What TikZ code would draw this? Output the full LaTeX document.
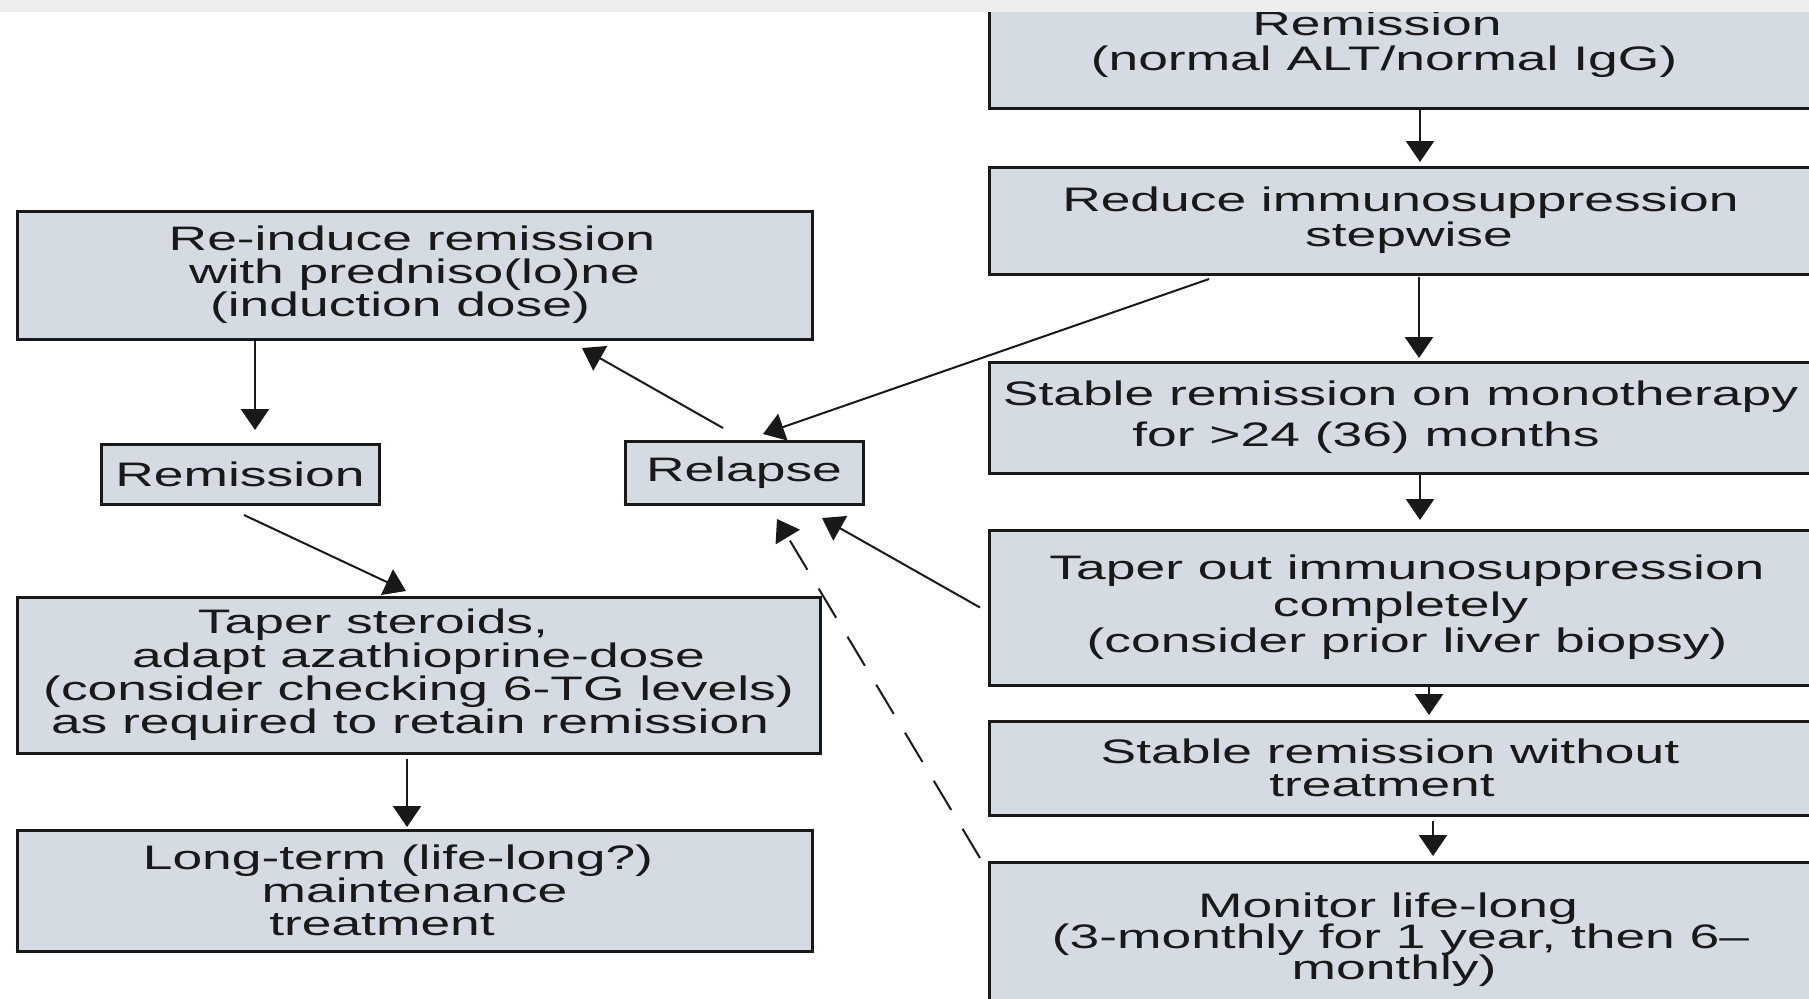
\documentclass[tikz,border=0pt]{standalone}
\usepackage{fontspec}
\newfontfamily\boxfont[FakeStretch=1.57]{Liberation Sans}
\usetikzlibrary{arrows.meta, calc}
\definecolor{boxfill}{RGB}{213,219,227}
\definecolor{ink}{RGB}{25,25,25}
\definecolor{band}{RGB}{238,238,238}
\lineskiplimit=-20pt

\tikzset{
    stage/.style={draw=ink, line width=1.5pt, fill=boxfill, text=ink,
        inner sep=0pt, outer sep=0pt, align=center,
        font=\boxfont\fontsize{17pt}{16.5pt}\selectfont},
    leading/.style={font=\boxfont\fontsize{17pt}{#1}\selectfont},
    flow/.style={->, draw=ink, line width=1.3pt},
    fallback/.style={->, draw=ink, line width=1pt},
}

\begin{document}
\begin{tikzpicture}[
    x=0.5pt, y=-0.5pt,
    >={Triangle[length=10.5pt, width=14pt]},
]
\path[use as bounding box, fill=white] (0,0) rectangle (1809,998);

% right column: withdrawal of treatment
\node[stage, minimum width=411.5pt, minimum height=64pt, leading=17.5pt] (remtop) at (1400.5,44)
    {Remission\hspace*{23.5pt}\\(normal ALT/normal IgG)\hspace*{16.5pt}};
\fill[band] (0,0) rectangle (1809,12);
\node[stage, minimum width=411.5pt, minimum height=53.5pt, leading=17.5pt] (reduce) at (1400.5,220.5)
    {Reduce immunosuppression\\\hspace*{8.5pt}stepwise};
\node[stage, minimum width=411.5pt, minimum height=55.5pt, leading=20.5pt] (stablemono) at (1400.5,417.5)
    {Stable remission on monotherapy\\for >24 (36) months\hspace*{34.5pt}};
\node[stage, minimum width=411.5pt, minimum height=77.5pt, leading=18.25pt] (taperout) at (1400.5,607.5)
    {\hspace*{6.5pt}Taper out immunosuppression\\completely\hspace*{17.5pt}\\\hspace*{6.5pt}(consider prior liver biopsy)};
\node[stage, minimum width=411.5pt, minimum height=47pt] (stablewo) at (1400.5,768)
    {Stable remission without\hspace*{10.5pt}\\treatment\hspace*{18.5pt}};
\node[stage, minimum width=411.5pt, minimum height=77.5pt, leading=15.5pt] (monitor) at (1400.5,939.5)
    {Monitor life-long\hspace*{12.5pt}\\(3-monthly for 1 year, then 6\textendash\hspace*{13.5pt}\\monthly)\hspace*{6.5pt}};

% left column: relapse handling
\node[stage, minimum width=397.5pt, minimum height=64pt] (reinduce) at (414.5,275)
    {Re-induce remission\hspace*{2.5pt}\\with predniso(lo)ne\hspace*{6.5pt}\\(induction dose)\hspace*{14.5pt}};
\node[stage, minimum width=139pt, minimum height=30pt] (remis) at (240,474) {Remission};
\node[stage, minimum width=119pt, minimum height=31.5pt] (relapse) at (744,472.5) {Relapse};
\node[stage, minimum width=401.5pt, minimum height=78pt, leading=16.7pt] (taperst) at (418.5,675)
    {Taper steroids,\hspace*{45.5pt}\\adapt azathioprine-dose\hspace*{23.5pt}\\(consider checking 6-TG levels)\\as required to retain remission\hspace*{8.5pt}};
\node[stage, minimum width=397.5pt, minimum height=60.5pt] (longterm) at (414.5,890.5)
    {Long-term (life-long?)\hspace*{16.5pt}\\maintenance\hspace*{37.5pt}\\treatment\hspace*{32.5pt}};

% straight steps
\draw[flow, shorten >=2.5pt] ($(remtop.south)+(19.5,0)$) -- ($(reduce.north)+(19.5,0)$);
\draw[flow, shorten <=1.5pt, shorten >=2pt] ($(reduce.south)+(18.5,0)$) -- ($(stablemono.north)+(18.5,0)$);
\draw[flow, shorten >=5pt] ($(stablemono.south)+(19.5,0)$) -- ($(taperout.north)+(19.5,0)$);
\draw[flow, shorten >=3pt] ($(taperout.south)+(28.5,0)$) -- ($(stablewo.north)+(28.5,0)$);
\draw[flow, shorten <=3pt, shorten >=3pt] ($(stablewo.south)+(32.5,0)$) -- ($(monitor.north)+(32.5,0)$);
\draw[flow, shorten >=7pt] ($(reinduce.south)+(-159.5,0)$) -- ($(remis.north)+(15,0)$);
\draw[flow, shorten <=3pt, shorten >=1.5pt] ($(taperst.south)+(-11.5,0)$) -- ($(longterm.north)+(-7.5,0)$);

% relapse paths
\draw[fallback] ($(reduce.south)+(-191.5,5)$) -- ($(relapse.north)+(19,-7)$);
\draw[fallback] ($(relapse.north)+(-21,-13)$) -- ($(reinduce.south)+(167.5,9)$);
\draw[fallback] ($(remis.south)+(4,11)$) -- ($(taperst.north)+(-12.5,-6)$);
\draw[fallback] ($(taperout.west)+(-9,0)$) -- ($(relapse.south)+(78,14)$);
\draw[fallback, dash pattern=on 17pt off 11pt] ($(monitor.north west)+(-9,-4)$) -- ($(relapse.south)+(33,15)$);
\end{tikzpicture}
\end{document}
